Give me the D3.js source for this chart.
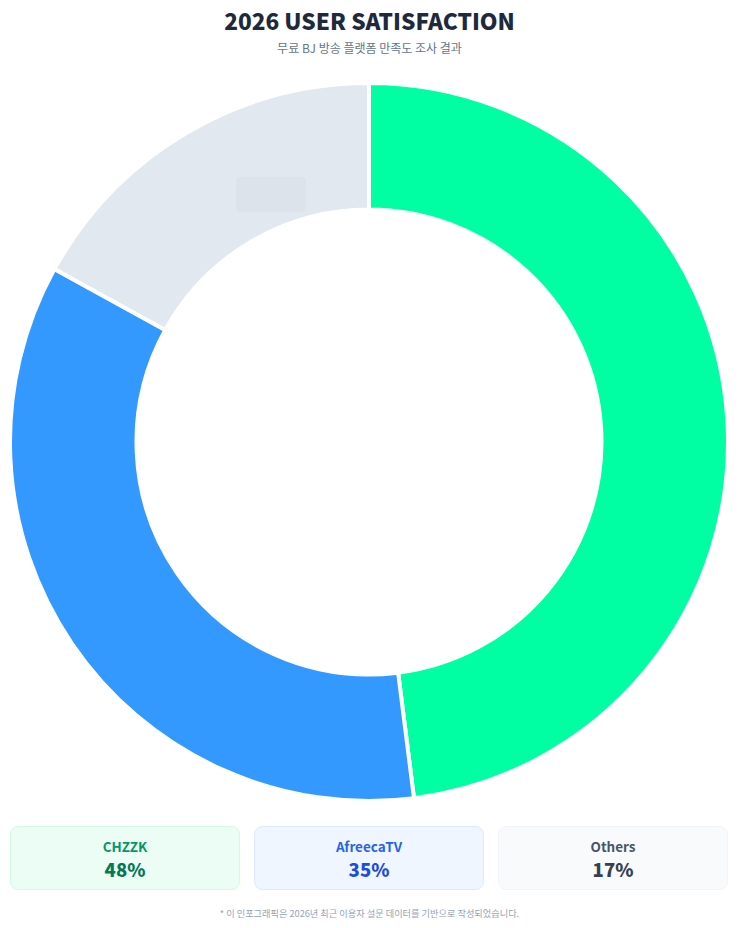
<!DOCTYPE html>
<html>
<head>
<meta charset="utf-8">
<script src="https://cdn.jsdelivr.net/npm/d3@7"></script>
<style>
  html, body { margin: 0; padding: 0; background: #fff; }
  body { width: 739px; height: 928px; overflow: hidden; font-family: "Noto Sans CJK KR", "Noto Sans", sans-serif; }
</style>
</head>
<body>
<svg id="chart" width="739" height="928"></svg>
<script>
// DATA
const platforms = ['CHZZK', 'AfreecaTV', 'Others']
const shares    = [48, 35, 17]
const sliceColors = ['#00ffa3', '#3399ff', '#e2e8f0']

// legend card styles per platform
const cardStyles = [
    { bg: '#ecfdf5', border: '#d1fae5', label: '#059669', value: '#047857' },
    { bg: '#eff6ff', border: '#dbeafe', label: '#2563eb', value: '#1d4ed8' },
    { bg: '#f8fafc', border: '#f1f5f9', label: '#475569', value: '#334155' }
]

const svg = d3.select('#chart')
const W = 739

// 1. Titles
svg.append('text')
    .attr('x', W / 2).attr('y', 30)
    .attr('text-anchor', 'middle')
    .attr('font-size', 22.6).attr('font-weight', 800)
    .attr('fill', '#1e293b')
    .text('2026 USER SATISFACTION')

svg.append('text')
    .attr('x', W / 2).attr('y', 53)
    .attr('text-anchor', 'middle')
    .attr('font-size', 12)
    .attr('fill', '#64748b')
    .text('무료 BJ 방송 플랫폼 만족도 조사 결과')

// 2. Donut
const cx = 369, cy = 442, outerR = 359, innerR = 232.5

const pie = d3.pie().sort(null).value(d => d)
const arc = d3.arc().innerRadius(innerR).outerRadius(outerR)

const g = svg.append('g').attr('transform', `translate(${cx},${cy})`)
g.selectAll('path')
    .data(pie(shares))
    .join('path')
    .attr('d', arc)
    .attr('fill', (d, i) => sliceColors[i])
    .attr('stroke', '#fff')
    .attr('stroke-width', 4)
    .attr('stroke-linejoin', 'round')

// faded tooltip ghost left over in the Others slice
svg.append('rect')
    .attr('x', 236).attr('y', 177)
    .attr('width', 70).attr('height', 35)
    .attr('rx', 4)
    .attr('fill', '#dde3eb')

// 3. Legend cards
const cardW = 230, cardH = 64, cardY = 826, gap = 14
const cardX = d3.scaleBand()
    .domain(platforms)
    .range([10, 10 + cardW * 3 + gap * 2])
    .paddingInner(gap / (cardW + gap))

const cards = svg.selectAll('g.card')
    .data(platforms)
    .join('g')
    .attr('class', 'card')
    .attr('transform', d => `translate(${cardX(d)},${cardY})`)

cards.append('rect')
    .attr('x', 0.5).attr('y', 0.5)
    .attr('width', cardX.bandwidth() - 1).attr('height', cardH - 1)
    .attr('rx', 8)
    .attr('fill', (d, i) => cardStyles[i].bg)
    .attr('stroke', (d, i) => cardStyles[i].border)

cards.append('text')
    .attr('x', cardX.bandwidth() / 2).attr('y', 26)
    .attr('text-anchor', 'middle')
    .attr('font-size', 13.5).attr('font-weight', 700)
    .attr('fill', (d, i) => cardStyles[i].label)
    .text(d => d)

cards.append('text')
    .attr('x', cardX.bandwidth() / 2).attr('y', 51)
    .attr('text-anchor', 'middle')
    .attr('font-size', 18.5).attr('font-weight', 800)
    .attr('fill', (d, i) => cardStyles[i].value)
    .text((d, i) => shares[i] + '%')

// 4. Footnote
svg.append('text')
    .attr('x', W / 2).attr('y', 917)
    .attr('text-anchor', 'middle')
    .attr('font-size', 9.2)
    .attr('fill', '#94a3b8')
    .text('* 이 인포그래픽은 2026년 최근 이용자 설문 데이터를 기반으로 작성되었습니다.')
</script>
</body>
</html>
